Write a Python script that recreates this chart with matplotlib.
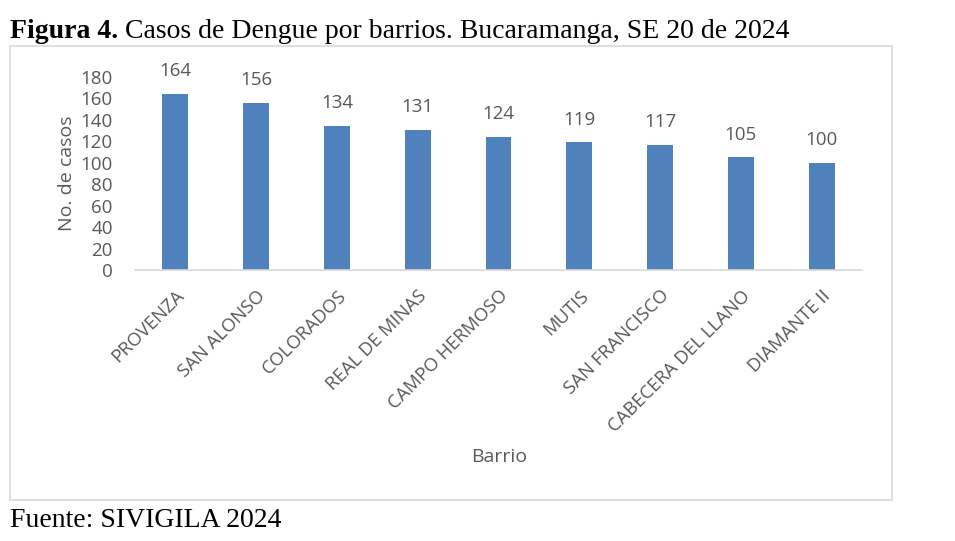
import matplotlib
matplotlib.use("Agg")
import matplotlib.pyplot as plt
from matplotlib.patches import Rectangle

# data
barrios = ["PROVENZA", "SAN ALONSO", "COLORADOS", "REAL DE MINAS", "CAMPO HERMOSO",
           "MUTIS", "SAN FRANCISCO", "CABECERA DEL LLANO", "DIAMANTE II"]
casos = [164, 156, 134, 131, 124, 119, 117, 105, 100]
y_ticks = [0, 20, 40, 60, 80, 100, 120, 140, 160, 180]

W, H = 955, 541
bar_color = "#4f81bd"
text_gray = "#595959"
grid_gray = "#d9d9d9"
sans = "Open Sans"

fig = plt.figure(figsize=(W / 100, H / 100), dpi=100)
ax = fig.add_axes([135 / W, 1 - 270 / H, (862 - 135) / W, (270 - 77) / H])

x = list(range(len(barrios)))
bars = ax.bar(x, casos, width=0.32, color=bar_color)
ax.set_xlim(-0.5, len(barrios) - 0.5)
ax.set_ylim(0, 180)

# value labels above each bar
for rect, v in zip(bars, casos):
    ax.annotate(str(v), (rect.get_x() + rect.get_width() / 2, v),
                xytext=(0, 10), textcoords="offset points",
                ha="center", va="bottom", fontsize=13.5, color=text_gray, family=sans)

ax.set_yticks(y_ticks)
ax.set_yticklabels([str(t) for t in y_ticks], fontsize=13.5, color=text_gray, family=sans)
ax.set_xticks(x)
ax.set_xticklabels(barrios, rotation=45, ha="right", rotation_mode="anchor",
                   fontsize=13.3, color=text_gray, family=sans)
ax.tick_params(axis="y", length=0, pad=16)
ax.tick_params(axis="x", length=0, pad=12)

for side in ["top", "right", "left"]:
    ax.spines[side].set_visible(False)
ax.spines["bottom"].set_color(grid_gray)
ax.spines["bottom"].set_linewidth(1.2)

ax.set_ylabel("No. de casos", fontsize=14, color=text_gray, family=sans, labelpad=3)
fig.text(499 / W, 1 - 457 / H, "Barrio", ha="center", va="center",
         fontsize=14, color=text_gray, family=sans)

# light frame around the chart area
fig.patches.append(Rectangle((10 / W, 1 - 500 / H), 882 / W, 454 / H,
                             transform=fig.transFigure, fill=False,
                             edgecolor=grid_gray, linewidth=1.2))

# caption and source in serif
t1 = fig.text(10 / W, 1 - 44 / H, "Figura 4.", fontsize=20, fontweight="bold",
              family="Liberation Serif", va="bottom", color="black")
plt.annotate(" Casos de Dengue por barrios. Bucaramanga, SE 20 de 2024",
             xy=(1, 0), xycoords=t1, va="bottom", ha="left",
             fontsize=20, family="Liberation Serif", color="black",
             annotation_clip=False)
fig.text(10 / W, 1 - 533 / H, "Fuente: SIVIGILA 2024", fontsize=20,
         family="Liberation Serif", va="bottom", color="black")

fig.savefig("out.png", dpi=100)
